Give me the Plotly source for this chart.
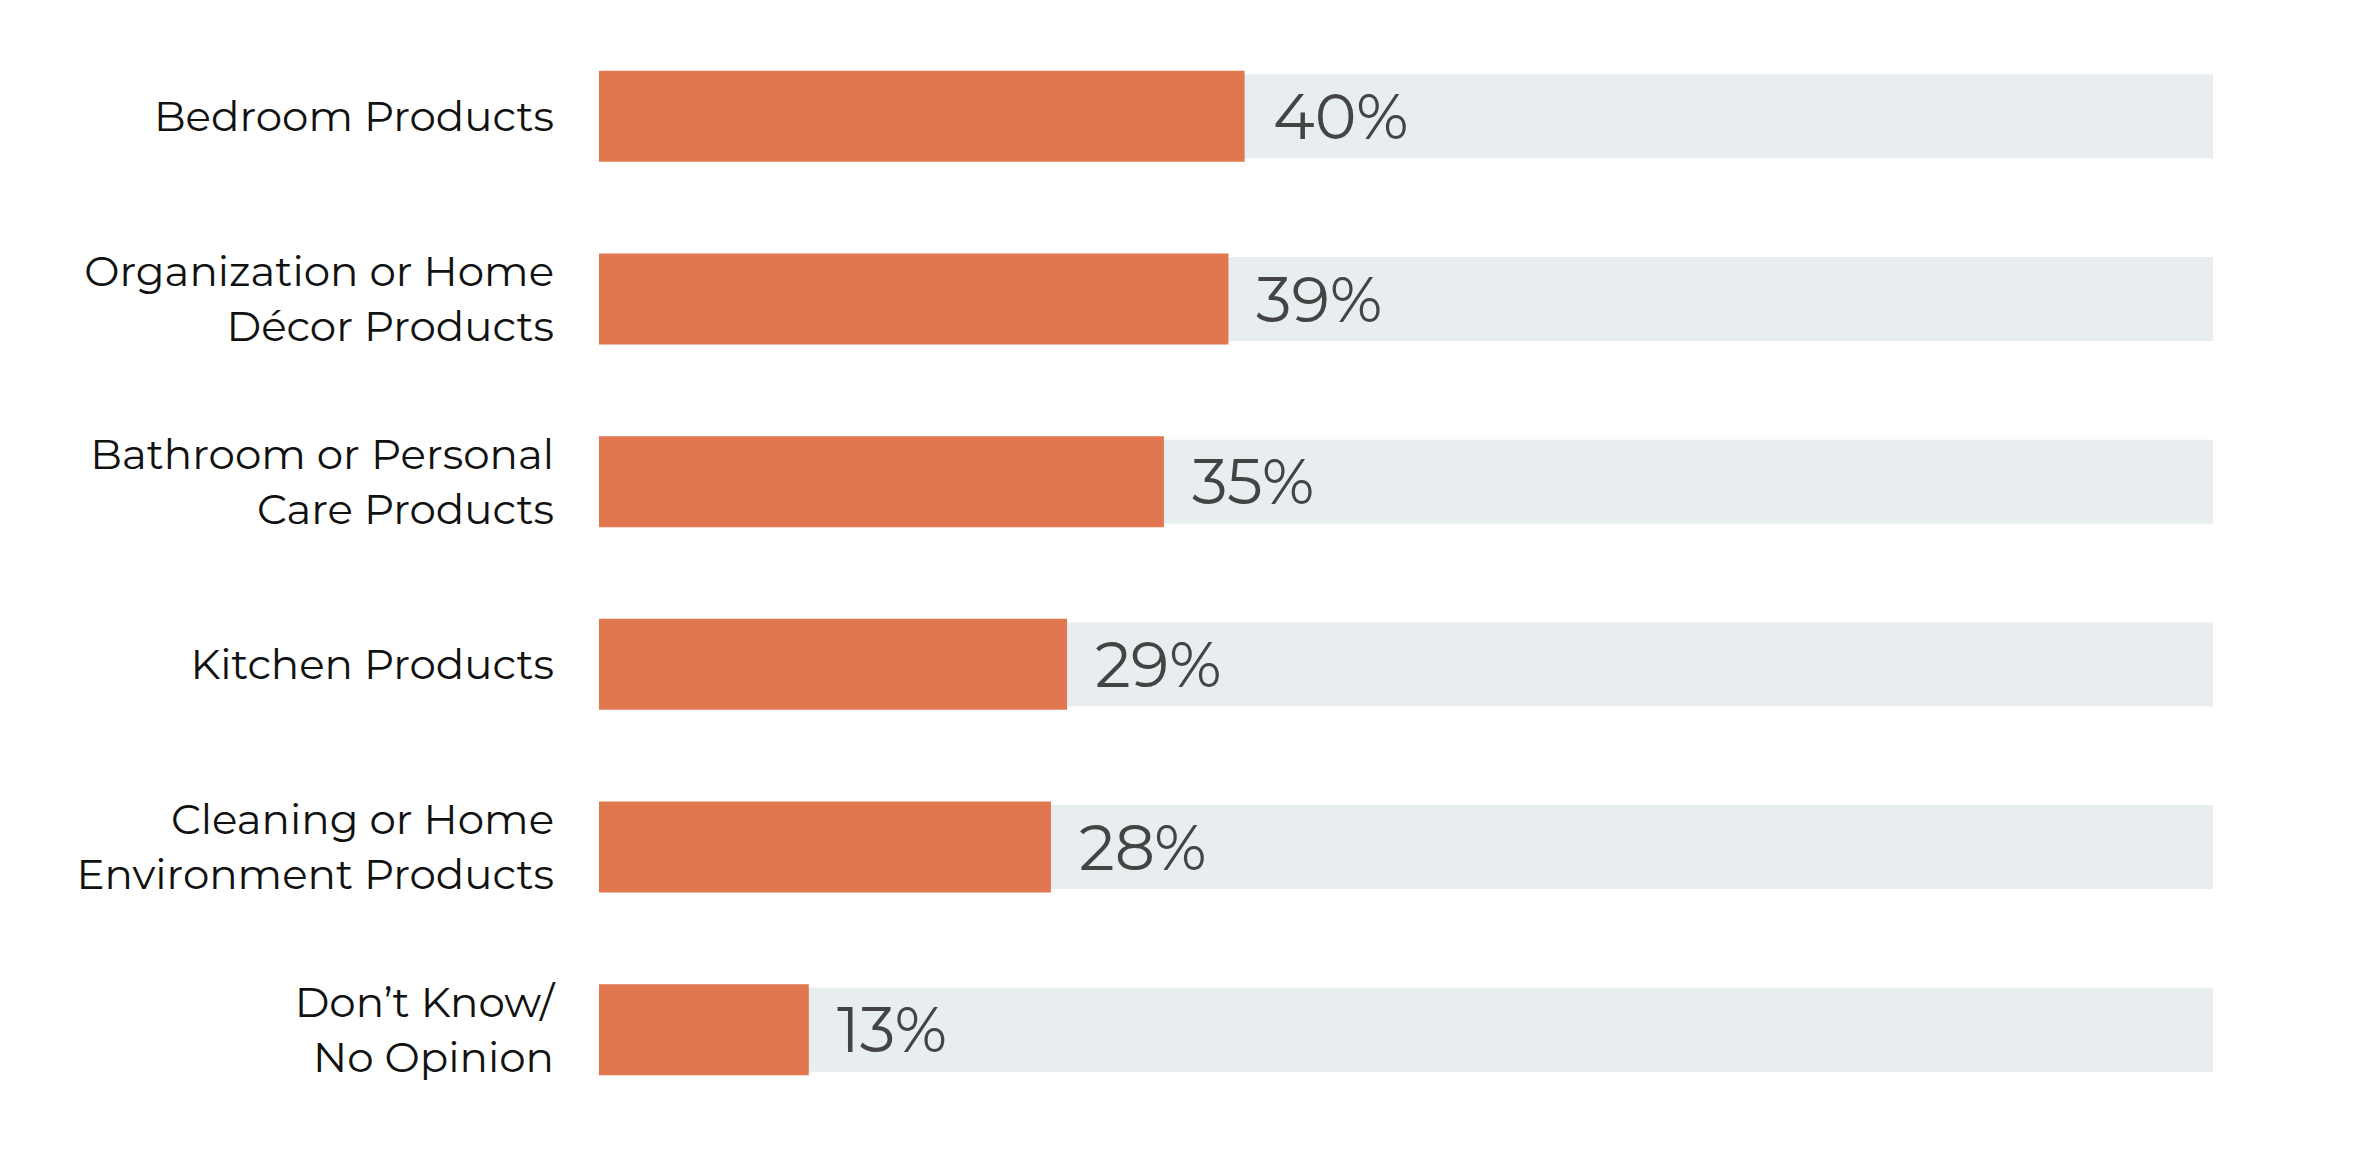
import plotly.graph_objects as go

# survey categories (top to bottom) and share of respondents
categories = [
    "Bedroom Products",
    "Organization or Home<br>Décor Products",
    "Bathroom or Personal<br>Care Products",
    "Kitchen Products",
    "Cleaning or Home<br>Environment Products",
    "Don’t Know/<br>No Opinion",
]
values = [40, 39, 35, 29, 28, 13]
full_scale = [100] * len(categories)
value_labels = [f"{v}%" for v in values]

orange = "#E0774F"
track = "#E8EDEF"

fig = go.Figure()

# grey track behind each bar
fig.add_trace(go.Bar(
    y=categories, x=full_scale, orientation="h",
    marker=dict(color=track, line=dict(width=0)),
    width=0.46, hoverinfo="skip", showlegend=False,
))

# the actual values
fig.add_trace(go.Bar(
    y=categories, x=values, orientation="h",
    marker=dict(color=orange, line=dict(width=0)),
    width=0.498, showlegend=False,
))

# percentage labels just right of each bar end
for cat, v, lab in zip(categories, values, value_labels):
    fig.add_annotation(
        x=v, y=cat, text=lab, showarrow=False,
        xanchor="left", yanchor="middle", xshift=26,
        font=dict(family="Montserrat, Noto Sans, sans-serif", size=63, color="#444444"),
    )

# page body adds 8px offset, so margins are shifted to compensate
fig.update_layout(
    barmode="overlay",
    width=2362, height=1168,
    margin=dict(l=591, r=157, t=17, b=55),
    paper_bgcolor="white", plot_bgcolor="white",
    font=dict(family="Montserrat, Noto Sans, sans-serif", color="#111111"),
    xaxis=dict(range=[0, 100], visible=False, fixedrange=True),
    yaxis=dict(
        autorange="reversed", showgrid=False, zeroline=False, showline=False,
        ticks="", ticklabelstandoff=44,
        tickfont=dict(size=42, color="#111111"),
    ),
)

fig.write_html("out.html")
